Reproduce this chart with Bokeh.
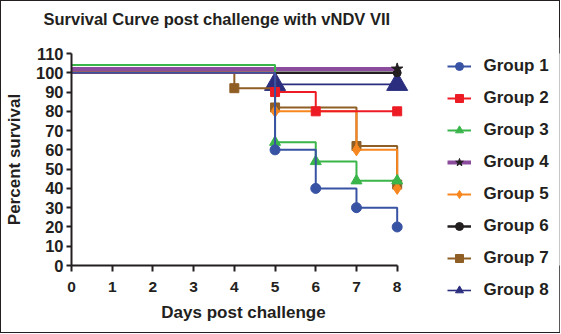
from bokeh.plotting import figure
from bokeh.models import Range1d, FixedTicker, Legend, LegendItem, Div
from bokeh.layouts import row, column
from bokeh.embed import file_html
from bokeh.resources import INLINE

# ---- data ----
title_text = "Survival Curve post challenge with vNDV VII"
groups = ["Group 1", "Group 2", "Group 3", "Group 4", "Group 5", "Group 6", "Group 7", "Group 8"]
g1_days = [0, 5, 6, 7, 8]
g1_surv = [100, 60, 40, 30, 20]
g2_days = [0, 5, 6, 8]
g2_surv = [100, 90, 80, 80]
g3_days = [0, 5, 6, 7, 8]
g3_surv = [104, 64, 54, 44, 44]
g4_days = [0, 8]
g4_surv = [102, 102]
g5_days = [0, 5, 7, 8]
g5_surv = [100, 80, 60, 40]
g6_days = [0, 8]
g6_surv = [100, 100]
g7_days = [0, 4, 5, 7, 8]
g7_surv = [100, 92, 82, 62, 42]
g8_days = [0, 5, 8]
g8_surv = [100, 94, 94]
x_ticks = [0, 1, 2, 3, 4, 5, 6, 7, 8]
y_ticks = [0, 10, 20, 30, 40, 50, 60, 70, 80, 90, 100, 110]

series = [
    (g1_days, g1_surv, "#3953a4", "#3953a4", "circle", 10, 2),
    (g2_days, g2_surv, "#ed1c24", "#ed1c24", "square", 9, 2),
    (g3_days, g3_surv, "#39b54a", "#39b54a", "triangle", 11, 2),
    (g4_days, g4_surv, "#8b4c9e", "#231f20", "star", 12, 4),
    (g5_days, g5_surv, "#f7861f", "#f7861f", "diamond", 12, 2),
    (g6_days, g6_surv, "#231f20", "#231f20", "circle", 8, 2.5),
    (g7_days, g7_surv, "#8f5e25", "#8f5e25", "square", 9, 2),
    (g8_days, g8_surv, "#2b2e7f", "#2b2e7f", "triangle", 21, 1.6),
]

TXT = "#231f20"
FONT = "Liberation Sans"

HEAD = 36          # height of the title strip
H = 331 - HEAD     # height of the plot row
W1 = 420
W2 = 558 - W1

head = Div(text=('<div style="margin:9px 0 0 42.5px; font-family:\'Liberation Sans\'; '
                 'font-weight:bold; font-size:16.5px; line-height:19px; color:#231f20; '
                 'white-space:nowrap">' + title_text + '</div>'),
           width=558, height=HEAD, margin=0)

p = figure(width=W1, height=H, output_backend="svg", toolbar_location=None, title=None,
           x_range=Range1d(0, 8.45), y_range=Range1d(0, 110),
           min_border_left=70, min_border_right=W1 - 414, min_border_top=16, min_border_bottom=67)
p.outline_line_color = None
p.xgrid.grid_line_color = None
p.ygrid.grid_line_color = None
p.background_fill_color = "white"
p.border_fill_color = "white"

for ax, ticks in ((p.xaxis[0], x_ticks), (p.yaxis[0], y_ticks)):
    ax.ticker = FixedTicker(ticks=ticks)
    ax.minor_tick_line_color = None
    ax.axis_line_width = 2
    ax.axis_line_color = TXT
    ax.major_tick_line_width = 2
    ax.major_tick_line_color = TXT
    ax.major_tick_in = 0
    ax.major_label_text_font = FONT
    ax.major_label_text_font_style = "bold"
    ax.major_label_text_color = TXT
    ax.axis_label_text_font = FONT
    ax.axis_label_text_font_style = "bold"
    ax.axis_label_text_font_size = "17px"
    ax.axis_label_text_color = TXT

p.xaxis[0].major_label_text_font_size = "15.5px"
p.yaxis[0].major_label_text_font_size = "16.5px"
p.xaxis[0].bounds = (0, 8)
p.yaxis[0].bounds = (0, 110)
p.xaxis[0].major_tick_out = 6
p.yaxis[0].major_tick_out = 5
p.xaxis[0].major_label_standoff = 10
p.yaxis[0].major_label_standoff = 3
p.xaxis[0].axis_label = "Days post challenge"
p.yaxis[0].axis_label = "Percent survival"
p.xaxis[0].axis_label_standoff = 8
p.yaxis[0].axis_label_standoff = 9

# legend panel: a second, axis-less figure whose side panel holds the legend
q = figure(width=W2, height=H, output_backend="svg", toolbar_location=None, title=None,
           x_range=Range1d(0, 1), y_range=Range1d(0, 1),
           min_border_left=0, min_border_right=0, min_border_top=16, min_border_bottom=67,
           x_axis_type=None, y_axis_type=None)
q.outline_line_color = None
q.xgrid.grid_line_color = None
q.ygrid.grid_line_color = None

items = []
for i in reversed(range(len(series))):
    days, surv, lc, mc, mk, sz, lw = series[i]
    p.step(days, surv, mode="after", line_color=lc, line_width=lw)
    p.scatter(days[1:], surv[1:], marker=mk, size=sz, fill_color=mc, line_color=mc)
    # legend keys (their data lie off-range, so they are shown only in the legend)
    ln = q.step(days, surv, mode="after", line_color=lc, line_width=lw)
    sc = q.scatter(days[1:], surv[1:], marker=mk, size=sz, fill_color=mc, line_color=mc)
    items.insert(0, LegendItem(label=groups[i], renderers=[ln, sc]))

legend = Legend(items=items, location=(25.5, -35), padding=0, margin=0,
                border_line_color=None, background_fill_alpha=0,
                glyph_width=24, glyph_height=20, label_height=20, spacing=12,
                label_standoff=13, label_text_font=FONT, label_text_font_style="bold",
                label_text_font_size="17px", label_text_color=TXT)
q.add_layout(legend, "left")

layout = column(head, row(p, q, spacing=0), spacing=0,
                styles={"border": "1.5px solid #231f20"})

open("out.html", "w").write(file_html(layout, INLINE))
